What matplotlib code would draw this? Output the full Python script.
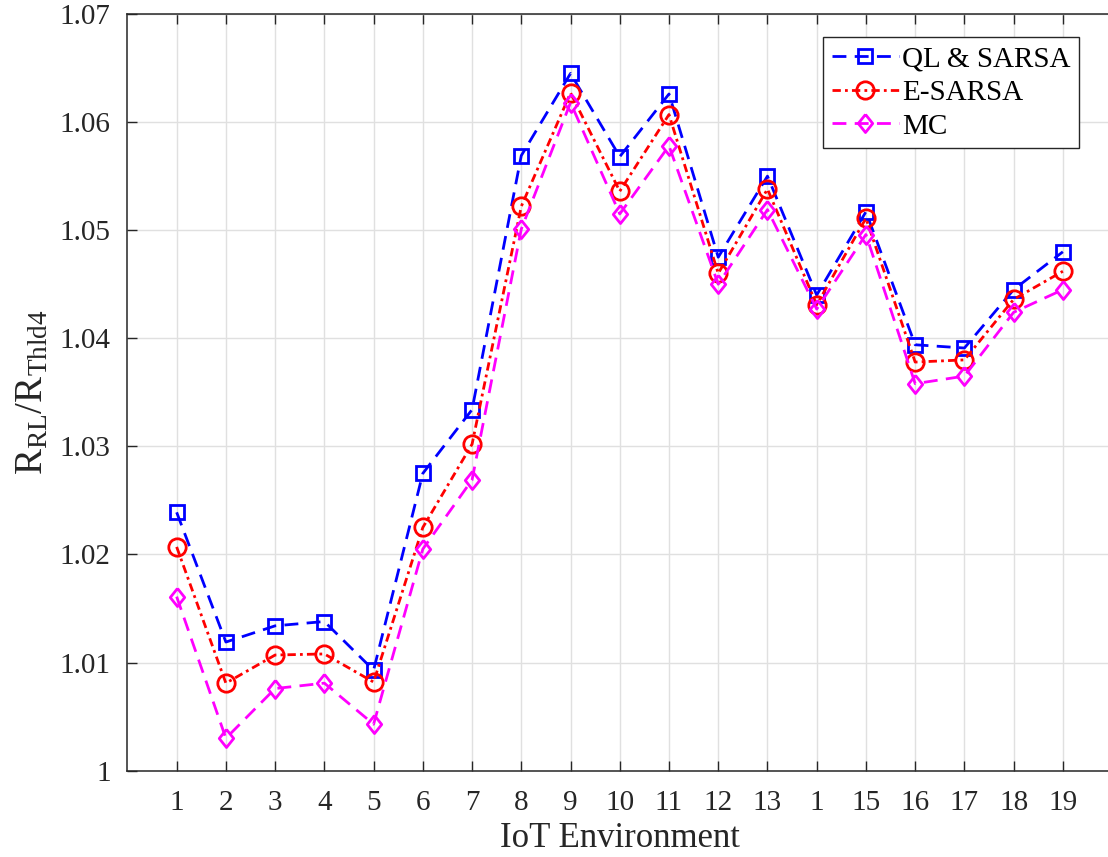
import matplotlib
matplotlib.use("Agg")
import matplotlib.pyplot as plt
import numpy as np
from matplotlib.ticker import FuncFormatter

plt.rcParams['font.family'] = ['Liberation Serif', 'DejaVu Serif']
plt.rcParams['mathtext.fontset'] = 'custom'
plt.rcParams['mathtext.rm'] = 'Liberation Serif'
plt.rcParams['mathtext.it'] = 'Liberation Serif:italic'

# ratio of achieved rate to the Thld4 baseline, per IoT environment
env_labels = ['1', '2', '3', '4', '5', '6', '7', '8', '9', '10',
              '11', '12', '13', '1', '15', '16', '17', '18', '19']
env_idx = np.arange(1, len(env_labels) + 1)

ql_sarsa = [1.0239, 1.0119, 1.0134, 1.0138, 1.0093, 1.0275, 1.0334, 1.0569, 1.0645, 1.0568,
            1.0626, 1.0475, 1.0550, 1.0440, 1.0517, 1.0394, 1.0391, 1.0445, 1.0480]
e_sarsa = [1.0207, 1.0081, 1.0107, 1.0108, 1.0082, 1.0225, 1.0302, 1.0522, 1.0627, 1.0536,
           1.0607, 1.0460, 1.0538, 1.0431, 1.0511, 1.0378, 1.0380, 1.0436, 1.0462]
mc = [1.0161, 1.0030, 1.0076, 1.0081, 1.0043, 1.0205, 1.0269, 1.0501, 1.0618, 1.0515,
      1.0578, 1.0450, 1.0519, 1.0427, 1.0496, 1.0358, 1.0365, 1.0424, 1.0445]

dark = (0.15, 0.15, 0.15)
diamond = [(0, 1), (0.8, 0), (0, -1), (-0.8, 0), (0, 1)]

fig = plt.figure(figsize=(11.08, 8.57), dpi=100)
ax = fig.add_axes([0.115, 0.1007, 0.8887, 0.883])

ax.plot(env_idx, ql_sarsa, color='blue', linestyle=(0, (5, 3)), linewidth=2,
        marker='s', markersize=9.5, markerfacecolor='none', markeredgewidth=2,
        label='QL & SARSA')
ax.plot(env_idx, e_sarsa, color='red', linestyle=(0, (3, 1.5, 1, 1.5)), linewidth=2,
        marker='o', markersize=12.5, markerfacecolor='none', markeredgewidth=2,
        label='E-SARSA')
ax.plot(env_idx, mc, color='magenta', linestyle=(0, (5, 3)), linewidth=2,
        marker=diamond, markersize=13, markerfacecolor='none', markeredgewidth=2,
        label='MC')

ax.set_xlim(0, 20)
ax.set_ylim(1.0, 1.07)
ax.set_xticks(env_idx)
ax.set_xticklabels(env_labels)
ax.set_yticks(np.arange(1.0, 1.0701, 0.01))
ax.yaxis.set_major_formatter(FuncFormatter(lambda v, p: '%g' % round(v, 4)))

ax.tick_params(direction='in', length=7, width=1, colors=dark, labelsize=21,
               top=True, right=False, pad=12)
ax.tick_params(axis='x', pad=14)
for s in ax.spines.values():
    s.set_color(dark)
    s.set_linewidth(1.1)

ax.grid(True, color=(0.88, 0.88, 0.88), linewidth=1)
ax.set_axisbelow(True)

ax.set_xlabel('IoT Environment', fontsize=25, color=dark, labelpad=4)
ax.set_ylabel(r'$\mathrm{R}_{\mathrm{RL}}/\mathrm{R}_{\mathrm{Thld4}}$', fontsize=28,
              color=dark, labelpad=6)

leg = ax.legend(loc='upper right', bbox_to_anchor=(0.9665, 0.9696), borderaxespad=0,
                fontsize=21, handlelength=2.3, handletextpad=0.1, labelspacing=0.25,
                borderpad=0.3, fancybox=False, framealpha=1)
leg.get_frame().set_edgecolor(dark)
leg.get_frame().set_linewidth(1)

fig.savefig('out.png', dpi=100)
